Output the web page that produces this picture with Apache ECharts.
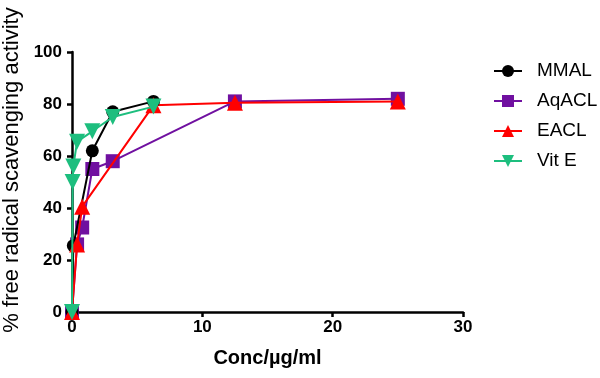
<!DOCTYPE html>
<html>
<head>
<meta charset="utf-8">
<script src="https://cdn.jsdelivr.net/npm/echarts@6/dist/echarts.min.js"></script>
<style>
  html, body { margin: 0; padding: 0; background: #fff; }
  #chart { width: 600px; height: 378px; }
</style>
</head>
<body>
<div id="chart"></div>
<script>
const seriesNames = ['MMAL', 'AqACL', 'EACL', 'Vit E'];
const mmal = [[0, 0], [0.1, 25.5], [1.56, 62], [3.125, 77], [6.25, 81]];
const aqacl = [[0, 0], [0.39, 26], [0.78, 32.5], [1.56, 55], [3.125, 58], [12.5, 81], [25, 82]];
const eacl = [[0, 0], [0.39, 26], [0.78, 40.5], [6.25, 79.5], [12.5, 80.5], [25, 81]];
const vitE = [[0, 0], [0.05, 50], [0.1, 56], [0.39, 65.5], [1.56, 69.5], [3.125, 75], [6.25, 79]];
const xTicks = [0, 10, 20, 30];
const yTicks = [0, 20, 40, 60, 80, 100];

const colors = ['#000000', '#7010a0', '#ff0000', '#1dbe7e'];
const symbols = ['circle', 'rect', 'triangle', 'path://M0,0 L10,0 L5,10 Z'];
const seriesData = [mmal, aqacl, eacl, vitE];

const chart = echarts.init(document.getElementById('chart'), null, { renderer: 'canvas' });

const axisFont = { fontFamily: 'Liberation Sans', fontWeight: 'bold', fontSize: 17, color: '#000' };

chart.setOption({
  backgroundColor: '#fff',
  animation: false,
  grid: { left: 72, right: 137, top: 52, bottom: 66, containLabel: false, outerBoundsMode: 'none' },
  legend: {
    orient: 'vertical',
    left: 488,
    top: 55,
    itemWidth: 28,
    itemHeight: 15,
    itemGap: 8,
    textStyle: { fontFamily: 'Liberation Sans', fontSize: 19, color: '#000', padding: [0, 0, 0, 10], lineHeight: 22 },
    data: seriesNames
  },
  xAxis: {
    type: 'value',
    min: xTicks[0],
    max: xTicks[xTicks.length - 1],
    interval: 10,
    name: 'Conc/µg/ml',
    nameLocation: 'middle',
    nameGap: 36,
    nameTextStyle: { fontFamily: 'Liberation Sans', fontWeight: 'bold', fontSize: 20, color: '#000' },
    axisLine: { lineStyle: { color: '#000', width: 2.5 } },
    axisTick: { length: 5, lineStyle: { color: '#000', width: 2.5 } },
    axisLabel: Object.assign({ margin: 7 }, axisFont),
    splitLine: { show: false }
  },
  yAxis: {
    type: 'value',
    min: yTicks[0],
    max: yTicks[yTicks.length - 1],
    interval: 20,
    name: '% free radical scavenging activity',
    nameLocation: 'middle',
    nameGap: 34,
    nameTextStyle: { fontFamily: 'Liberation Sans', fontSize: 22, color: '#000', padding: [0, 0, 0, 24] },
    axisLine: { show: true, lineStyle: { color: '#000', width: 2.5 } },
    axisTick: { show: true, length: 5, lineStyle: { color: '#000', width: 2.5 } },
    axisLabel: Object.assign({ margin: 10 }, axisFont),
    splitLine: { show: false }
  },
  series: seriesNames.map((name, i) => ({
    name: name,
    type: 'line',
    data: seriesData[i],
    symbol: symbols[i],
    symbolSize: i === 0 ? 13 : i === 1 ? 14 : 16,
    showAllSymbol: true,
    color: colors[i],
    lineStyle: { color: colors[i], width: 2 },
    itemStyle: { color: colors[i] },
    z: 2 + (i === 3 ? 3 : i === 0 ? 2 : i)
  }))
});
</script>
</body>
</html>
